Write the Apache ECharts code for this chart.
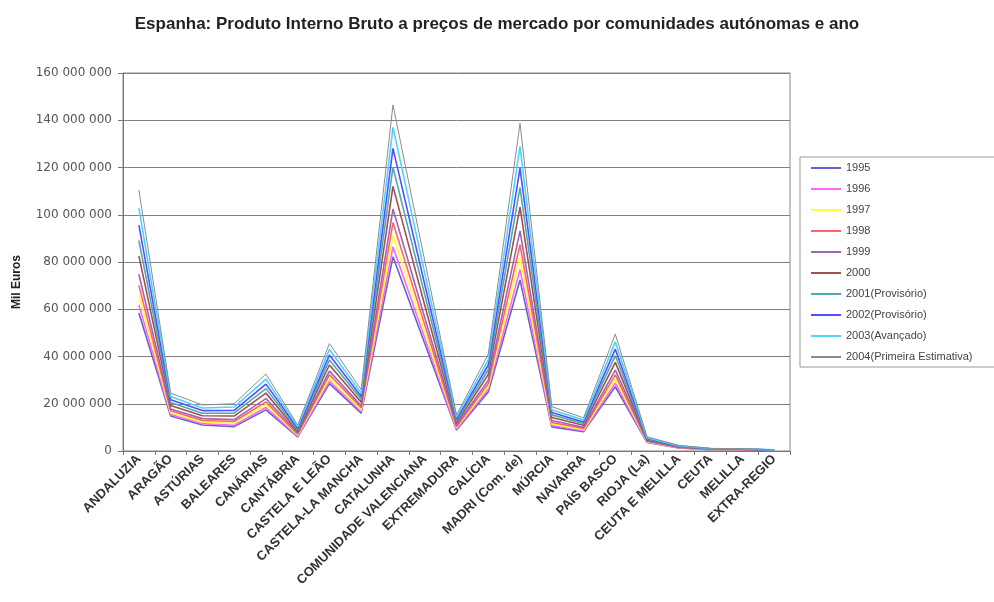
<!DOCTYPE html>
<html>
<head>
<meta charset="utf-8">
<script src="https://cdn.jsdelivr.net/npm/echarts@6/dist/echarts.min.js"></script>
<style>
  html, body { margin: 0; padding: 0; background: #fff; }
  #chart { width: 994px; height: 602px; }
</style>
</head>
<body>
<div id="chart"></div>
<script>
// regiões (eixo x)
var regioes = ['ANDALUZIA', 'ARAGÃO', 'ASTÚRIAS', 'BALEARES', 'CANÁRIAS', 'CANTÁBRIA',
  'CASTELA E LEÃO', 'CASTELA-LA MANCHA', 'CATALUNHA', 'COMUNIDADE VALENCIANA',
  'EXTREMADURA', 'GALÍCIA', 'MADRI (Com. de)', 'MÚRCIA', 'NAVARRA', 'PAÍS BASCO',
  'RIOJA (La)', 'CEUTA E MELILLA', 'CEUTA', 'MELILLA', 'EXTRA-REGIO'];

var anos = ['1995', '1996', '1997', '1998', '1999', '2000',
  '2001(Provisório)', '2002(Provisório)', '2003(Avançado)', '2004(Primeira Estimativa)'];

// valores em milhões de Mil Euros (uma lista por ano)
var v1995 = [58.4, 14.8, 11.0, 10.3, 17.4, 6.0, 28.5, 16.0, 82.2, 45.5, 8.9, 25.0, 72.4, 10.2, 8.2, 27.2, 3.6, 1.3, 0.60, 0.55, 0.30];
var v1996 = [61.8, 15.4, 11.6, 10.9, 18.4, 6.3, 29.6, 16.7, 86.4, 47.8, 9.3, 26.1, 76.8, 10.8, 8.6, 28.7, 3.8, 1.4, 0.65, 0.58, 0.31];
var v1997 = [65.8, 16.2, 12.2, 11.7, 19.6, 6.7, 30.9, 17.4, 91.3, 50.5, 9.8, 27.3, 81.8, 11.4, 9.0, 30.4, 3.9, 1.5, 0.70, 0.61, 0.33];
var v1998 = [70.1, 17.0, 12.9, 12.5, 20.8, 7.1, 32.3, 18.3, 96.7, 53.4, 10.3, 28.6, 87.3, 12.1, 9.5, 32.2, 4.1, 1.5, 0.73, 0.65, 0.34];
var v1999 = [74.8, 17.8, 13.7, 13.3, 22.2, 7.6, 33.8, 19.1, 102.4, 56.5, 10.9, 30.0, 93.2, 12.9, 10.0, 34.2, 4.4, 1.6, 0.78, 0.69, 0.36];
var v2000 = [82.6, 19.3, 14.9, 14.8, 24.5, 8.3, 36.4, 20.6, 112.0, 61.7, 11.8, 32.4, 103.2, 14.2, 10.9, 37.5, 4.7, 1.8, 0.83, 0.76, 0.39];
var v2001 = [89.1, 20.5, 16.0, 16.0, 26.4, 9.0, 38.5, 21.9, 120.1, 66.2, 12.6, 34.4, 111.5, 15.3, 11.6, 40.4, 5.0, 1.9, 0.90, 0.82, 0.42];
var v2002 = [95.6, 21.7, 17.1, 17.2, 28.3, 9.6, 40.6, 23.1, 128.1, 70.5, 13.4, 36.4, 119.7, 16.3, 12.3, 43.1, 5.3, 2.1, 0.96, 0.87, 0.44];
var v2003 = [102.8, 23.1, 18.2, 18.6, 30.4, 10.3, 43.0, 24.5, 137.0, 75.3, 14.3, 38.6, 128.9, 17.5, 13.1, 46.2, 5.6, 2.2, 1.03, 0.93, 0.47];
var v2004 = [110.5, 24.5, 19.5, 20.0, 32.6, 11.0, 45.5, 26.0, 146.5, 80.5, 15.2, 41.0, 138.7, 18.8, 14.0, 49.5, 6.0, 2.4, 1.10, 1.00, 0.50];

var valores = [v1995, v1996, v1997, v1998, v1999, v2000, v2001, v2002, v2003, v2004];

var cores = ['#6464c8', '#ff64ff', '#ffff3c', '#ff6464', '#a064b4', '#a05050',
  '#50aaaa', '#5050ff', '#50d2ff', '#8c8c8c'];

function milhares(n) {
  return String(Math.round(n)).replace(/\B(?=(\d{3})+(?!\d))/g, ' ');
}

var chart = echarts.init(document.getElementById('chart'), null, { renderer: 'canvas' });

var series = anos.map(function (ano, i) {
  return {
    name: ano,
    type: 'line',
    symbol: 'none',
    data: valores[i].map(function (v) { return v * 1000000; }),
    lineStyle: { color: cores[i], width: i === 9 ? 1 : 1.6 },
    itemStyle: { color: cores[i] },
    z: 2 + i
  };
});

var option = {
  backgroundColor: '#ffffff',
  animation: false,
  title: {
    text: 'Espanha: Produto Interno Bruto a preços de mercado por comunidades autónomas e ano',
    left: 'center',
    top: 11,
    textStyle: { fontFamily: 'Liberation Sans, Arial, sans-serif', fontSize: 17, fontWeight: 'bold', color: '#222' }
  },
  legend: {
    orient: 'vertical',
    left: 800,
    top: 157,
    width: 200,
    padding: [4, 30, 3, 11],
    icon: 'rect',
    itemWidth: 30,
    itemHeight: 2,
    itemGap: 7,
    borderColor: '#999',
    borderWidth: 1,
    data: anos,
    textStyle: { fontFamily: 'Liberation Sans, Arial, sans-serif', fontSize: 11, lineHeight: 14, color: '#444' }
  },
  grid: {
    left: 123,
    right: 204,
    top: 73,
    bottom: 151,
    show: true,
    borderColor: '#888',
    borderWidth: 1
  },
  xAxis: {
    type: 'category',
    data: regioes,
    boundaryGap: true,
    axisLine: { lineStyle: { color: '#777' } },
    axisTick: { show: true, length: 4, lineStyle: { color: '#777' } },
    axisLabel: {
      interval: 0,
      rotate: 45,
      margin: 6,
      color: '#333',
      fontFamily: 'Liberation Sans, Arial, sans-serif',
      fontSize: 13,
      fontWeight: 'bold'
    }
  },
  yAxis: {
    type: 'value',
    min: 0,
    max: 160000000,
    interval: 20000000,
    name: 'Mil Euros',
    nameLocation: 'middle',
    nameGap: 100,
    nameTextStyle: { fontFamily: 'Liberation Sans, Arial, sans-serif', fontSize: 12, fontWeight: 'bold', color: '#222', padding: [0, 0, 0, -40] },
    axisLine: { show: true, lineStyle: { color: '#777' } },
    axisTick: { show: true, inside: false, length: 5, lineStyle: { color: '#777' } },
    axisLabel: {
      margin: 11,
      color: '#555',
      fontFamily: 'DejaVu Sans, sans-serif',
      fontSize: 12,
      formatter: function (v) { return milhares(v); }
    },
    splitLine: { lineStyle: { color: '#808080', width: 1 } }
  },
  series: series
};

chart.setOption(option);
</script>
</body>
</html>
